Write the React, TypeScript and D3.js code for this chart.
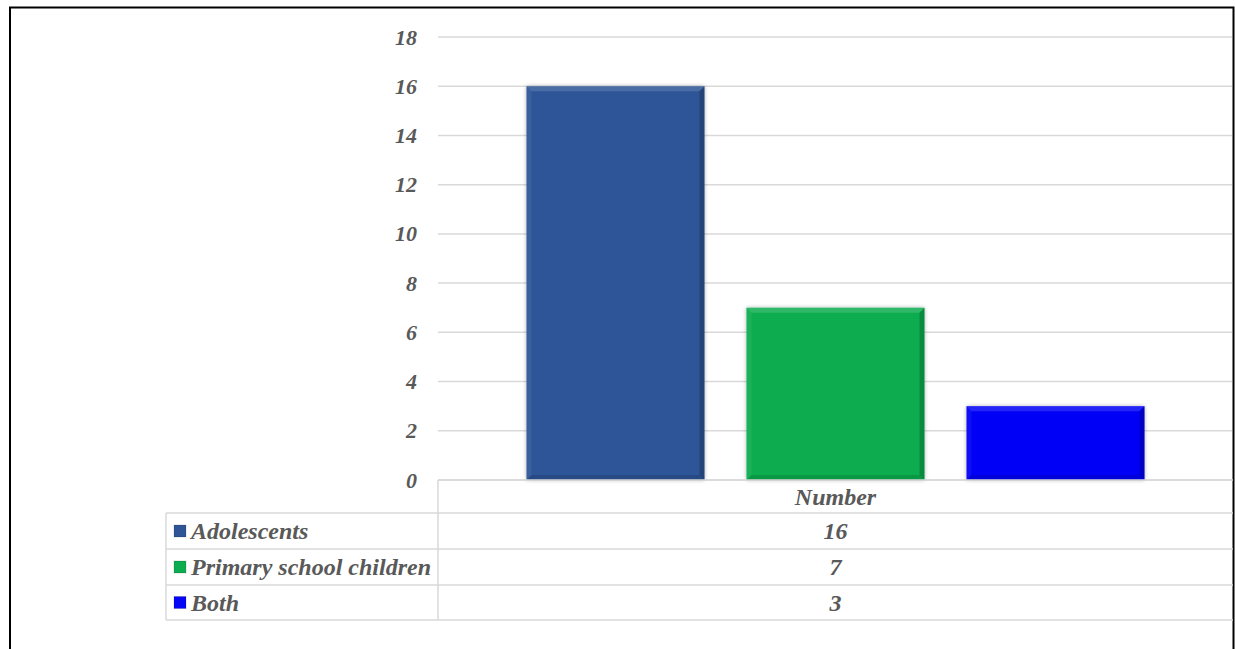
import React from "react";
import * as d3 from "d3";

// Chart data
const category = "Number";
const seriesNames = ["Adolescents", "Primary school children", "Both"];
const seriesValues = [16, 7, 3];
const seriesColors = ["#2F5597", "#0BAD50", "#0606F6"];
const yTicks = [0, 2, 4, 6, 8, 10, 12, 14, 16, 18];

const W = 1235;
const H = 649;
const plotLeft = 438;
const plotRight = 1233;
const plotTop = 37;
const plotBottom = 480;
const tableLeft = 166;
const rowLines = [480, 513, 549, 585, 620];

const textColor = "#595959";
const gridColor = "#D9D9D9";
const fontFamily = "'Liberation Serif', 'Times New Roman', serif";

export default function App() {
  const y = d3.scaleLinear().domain([0, 18]).range([plotBottom, plotTop]);
  const x0 = d3
    .scaleBand<string>()
    .domain([category])
    .range([plotLeft, plotRight])
    .paddingInner(0)
    .paddingOuter(0.1432);
  const x1 = d3
    .scaleBand<string>()
    .domain(seriesNames)
    .range([0, x0.bandwidth()])
    .paddingInner(0.1909)
    .paddingOuter(0);

  const bevel = 5;

  return (
    <svg
      width={W}
      height={H}
      viewBox={`0 0 ${W} ${H}`}
      style={{ position: "absolute", left: 0, top: 0, display: "block", background: "#fff" }}
    >
      <defs>
        <filter id="barShadow" x="-10%" y="-10%" width="120%" height="120%">
          <feGaussianBlur in="SourceAlpha" stdDeviation="2" />
          <feComponentTransfer>
            <feFuncA type="linear" slope="0.3" />
          </feComponentTransfer>
          <feMerge>
            <feMergeNode />
            <feMergeNode in="SourceGraphic" />
          </feMerge>
        </filter>
      </defs>

      {/* outer frame */}
      <rect x={10} y={7.5} width={1223.5} height={700} fill="none" stroke="#000" strokeWidth={2} />

      {/* horizontal gridlines */}
      {yTicks.map((t) => (
        <line
          key={"g" + t}
          x1={plotLeft}
          x2={plotRight - 1}
          y1={y(t)}
          y2={y(t)}
          stroke={gridColor}
          strokeWidth={1.5}
        />
      ))}

      {/* y tick labels */}
      {yTicks.map((t) => (
        <text
          key={"t" + t}
          x={417}
          y={y(t) + 7.5}
          textAnchor="end"
          fontFamily={fontFamily}
          fontStyle="italic"
          fontWeight="bold"
          fontSize={22}
          fill={textColor}
        >
          {t}
        </text>
      ))}

      {/* bars with bevel */}
      {seriesNames.map((s, i) => {
        const bx = (x0(category) as number) + (x1(s) as number);
        const bw = x1.bandwidth();
        const by = y(seriesValues[i]);
        const bh = y(0) - by;
        const b = Math.min(bevel, bh / 2);
        return (
          <g key={s}>
            <rect x={bx} y={by} width={bw} height={bh} fill={seriesColors[i]} filter="url(#barShadow)" />
            {/* top highlight */}
            <polygon
              points={`${bx},${by} ${bx + bw},${by} ${bx + bw - b},${by + b} ${bx + b},${by + b}`}
              fill="#fff"
              opacity={0.14}
            />
            {/* left highlight */}
            <polygon
              points={`${bx},${by} ${bx + b},${by + b} ${bx + b},${by + bh - b} ${bx},${by + bh}`}
              fill="#fff"
              opacity={0.06}
            />
            {/* right shade */}
            <polygon
              points={`${bx + bw},${by} ${bx + bw},${by + bh} ${bx + bw - b},${by + bh - b} ${bx + bw - b},${by + b}`}
              fill="#000"
              opacity={0.2}
            />
            {/* bottom shade */}
            <polygon
              points={`${bx},${by + bh} ${bx + bw},${by + bh} ${bx + bw - b},${by + bh - b} ${bx + b},${by + bh - b}`}
              fill="#000"
              opacity={0.12}
            />
          </g>
        );
      })}

      {/* data table */}
      <g stroke={gridColor} strokeWidth={1.5}>
        <line x1={plotLeft} x2={plotRight} y1={rowLines[0]} y2={rowLines[0]} />
        {rowLines.slice(1).map((ry) => (
          <line key={"r" + ry} x1={tableLeft} x2={plotRight} y1={ry} y2={ry} />
        ))}
        <line x1={plotLeft} x2={plotLeft} y1={rowLines[0]} y2={rowLines[rowLines.length - 1]} />
        <line x1={tableLeft} x2={tableLeft} y1={rowLines[1]} y2={rowLines[rowLines.length - 1]} />
      </g>

      <text
        x={(x0(category) as number) + x0.bandwidth() / 2}
        y={(rowLines[0] + rowLines[1]) / 2 + 8}
        textAnchor="middle"
        fontFamily={fontFamily}
        fontStyle="italic"
        fontWeight="bold"
        fontSize={24}
        fill={textColor}
      >
        {category}
      </text>

      {seriesNames.map((s, i) => {
        const cy = (rowLines[i + 1] + rowLines[i + 2]) / 2;
        return (
          <g key={"row" + s}>
            <rect x={174} y={cy - 6} width={12} height={12} fill={seriesColors[i]} />
            <rect x={174} y={cy - 6} width={12} height={12} fill="none" stroke="#000" strokeOpacity={0.15} strokeWidth={1} />
            <text
              x={191}
              y={cy + 8}
              fontFamily={fontFamily}
              fontStyle="italic"
              fontWeight="bold"
              fontSize={24}
              fill={textColor}
            >
              {s}
            </text>
            <text
              x={(x0(category) as number) + x0.bandwidth() / 2}
              y={cy + 8}
              textAnchor="middle"
              fontFamily={fontFamily}
              fontStyle="italic"
              fontWeight="bold"
              fontSize={24}
              fill={textColor}
            >
              {seriesValues[i]}
            </text>
          </g>
        );
      })}
    </svg>
  );
}
